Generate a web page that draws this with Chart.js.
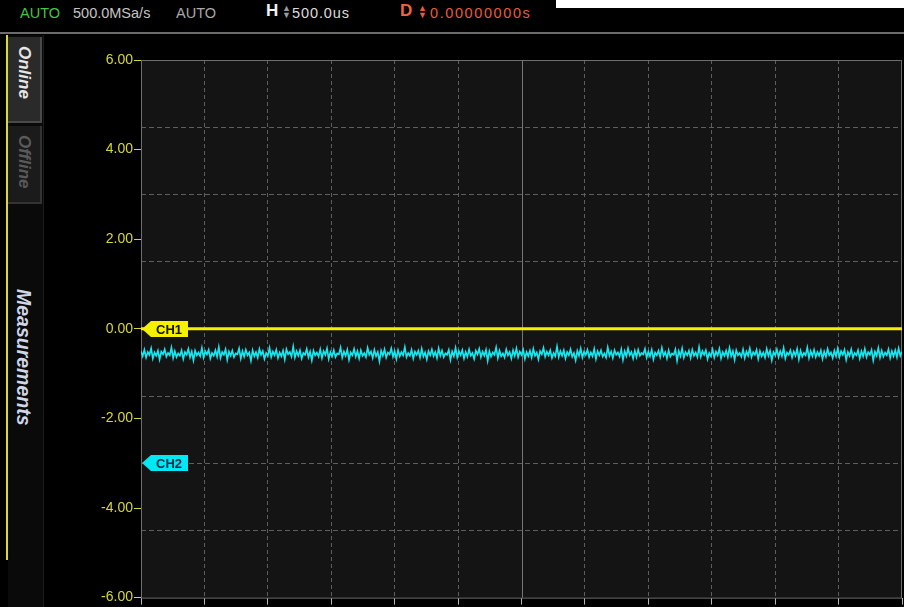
<!DOCTYPE html>
<html>
<head>
<meta charset="utf-8">
<script src="https://cdn.jsdelivr.net/npm/chart.js@4.4.1/dist/chart.umd.min.js"></script>
<style>
  html, body { margin: 0; padding: 0; background: #000; width: 904px; height: 607px; overflow: hidden; font-family: "Liberation Sans", Arial, sans-serif; }
  #topbar { position: absolute; left: 0; top: 0; width: 904px; height: 32px; background: #000; }
  #topcut { position: absolute; left: 556px; top: 0; width: 348px; height: 8px; background: #fff; }
  #topline { position: absolute; left: 0; top: 32px; width: 904px; height: 2px; background: #6c6c6c; }
  .tb { position: absolute; top: 4px; font-size: 14.5px; white-space: nowrap; line-height: 18px; }
  #sidebar { position: absolute; left: 8px; top: 35px; width: 35px; height: 572px; background: #0a0a0a; border-right: 1px solid #1c1c1c; }
  #yline { position: absolute; left: 6px; top: 35px; width: 2px; height: 525px; background: #d8d840; }
  .tab { position: absolute; left: 8px; width: 34px; writing-mode: vertical-rl; font-weight: bold; font-style: italic; font-size: 17px; display: flex; align-items: center; justify-content: flex-start; box-sizing: border-box; padding-top: 9px; }
  #online { top: 37px; height: 86px; background: #2a2a2a; color: #e6e6e6; border-right: 2px solid #4a4a4a; border-bottom: 2px solid #4a4a4a; }
  #offline { top: 126px; height: 78px; background: #1b1b1b; color: #5a5a5a; border-right: 2px solid #333; border-bottom: 2px solid #333; }
  #meas { position: absolute; left: 11px; top: 289px; width: 24px; writing-mode: vertical-rl; font-weight: bold; font-style: italic; font-size: 19.5px; color: #cfd6e6; }
  #chartWrap { position: absolute; left: 0; top: 0; width: 904px; height: 607px; }
</style>
</head>
<body>
<div id="topbar"></div>
<div id="topcut"></div>
<div id="topline"></div>
<div class="tb" style="left:20px;color:#44c544;">AUTO</div>
<div class="tb" style="left:73px;color:#c4c4c4;">500.0MSa/s</div>
<div class="tb" style="left:176px;color:#a8a8a8;">AUTO</div>
<div class="tb" style="left:266px;top:2px;color:#f2f2f2;font-weight:bold;font-size:17px;">H</div>
<div class="tb" style="left:282px;top:5px;color:#9a9a9a;font-size:9px;line-height:7px;">▲<br>▼</div>
<div class="tb" style="left:292px;color:#dcdcdc;letter-spacing:0.9px;">500.0us</div>
<div class="tb" style="left:400px;top:2px;color:#f0663c;font-weight:bold;font-size:17px;">D</div>
<div class="tb" style="left:418px;top:5px;color:#e0603a;font-size:9px;line-height:7px;">▲<br>▼</div>
<div class="tb" style="left:430px;color:#e85c3c;letter-spacing:1.6px;">0.00000000s</div>

<div id="sidebar"></div>
<div id="yline"></div>
<div class="tab" id="online">Online</div>
<div class="tab" id="offline">Offline</div>
<div id="meas">Measurements</div>

<div id="chartWrap"><canvas id="scope" width="904" height="607"></canvas></div>

<script>
// Time base: 12 horizontal divisions at 500 us/div, centred on the trigger
const timeSpanMs = [-3, 3];
const voltRange = [-6, 6];
const voltTickLabels = [-6, -4, -2, 0, 2, 4, 6];
const voltGridLines = [-4.5, -3, -1.5, 1.5, 3, 4.5];

// Channel ground markers (volts on the screen scale)
const channelNames = ['CH1', 'CH2'];
const channelOffsets = [0, -3];
const channelColors = ['#f4f000', '#00e8f4'];
const channelTextColors = ['#111100', '#0c2a44'];

// CH1 acquisition: flat at 0 V
const ch1Samples = [0, 0, 0, 0, 0, 0, 0, 0, 0, 0, 0, 0, 0];

// CH2 acquisition: noisy level just below zero
const ch2Samples = [
  -0.50,-0.61,-0.47,-0.64,-0.52,-0.58,-0.44,-0.66,-0.53,-0.60,-0.49,-0.68,-0.51,-0.57,-0.46,-0.62,-0.54,-0.59,-0.42,-0.65,-0.50,-0.63,-0.55,-0.60,-0.48,
  -0.67,-0.52,-0.58,-0.45,-0.63,-0.51,-0.70,-0.49,-0.59,-0.53,-0.61,-0.43,-0.64,-0.50,-0.57,-0.47,-0.66,-0.54,-0.60,-0.48,-0.62,-0.41,-0.65,-0.52,-0.58,
  -0.46,-0.69,-0.51,-0.60,-0.49,-0.63,-0.55,-0.57,-0.44,-0.66,-0.50,-0.62,-0.47,-0.59,-0.53,-0.71,-0.48,-0.61,-0.52,-0.64,-0.45,-0.58,-0.50,-0.67,-0.54,
  -0.60,-0.43,-0.63,-0.51,-0.59,-0.47,-0.65,-0.53,-0.61,-0.49,-0.68,-0.46,-0.57,-0.52,-0.62,-0.40,-0.64,-0.50,-0.60,-0.48,-0.66,-0.54,-0.58,-0.45,-0.63,
  -0.51,-0.70,-0.49,-0.59,-0.53,-0.62,-0.46,-0.65,-0.50,-0.58,-0.44,-0.67,-0.52,-0.61,-0.48,-0.63,-0.55,-0.57,-0.42,-0.64,-0.51,-0.60,-0.47,-0.69,-0.53,
  -0.59,-0.45,-0.62,-0.50,-0.66,-0.48,-0.60,-0.54,-0.63,-0.43,-0.58,-0.51,-0.65,-0.47,-0.61,-0.52,-0.72,-0.49,-0.60,-0.46,-0.64,-0.53,-0.57,-0.44,-0.62,
  -0.50,-0.67,-0.48,-0.61,-0.52,-0.59,-0.41,-0.63,-0.54,-0.60,-0.47,-0.66,-0.51,-0.58,-0.49,-0.64,-0.45,-0.62,-0.53,-0.68,-0.50,-0.59,-0.46,-0.61,-0.52,
  -0.65,-0.44,-0.60,-0.49,-0.63,-0.55,-0.58,-0.47,-0.69,-0.51,-0.61,-0.43,-0.64,-0.50,-0.59,-0.48,-0.66,-0.52,-0.62,-0.46,-0.60,-0.54,-0.67,-0.49,-0.57,
  -0.45,-0.63,-0.51,-0.60,-0.47,-0.71,-0.50,-0.62,-0.53,-0.58,-0.42,-0.65,-0.49,-0.61,-0.55,-0.64,-0.46,-0.59,-0.52,-0.66,-0.48,-0.60,-0.44,-0.63,-0.51,
  -0.58,-0.47,-0.67,-0.52,-0.61,-0.49,-0.64,-0.45,-0.60,-0.53,-0.68,-0.50,-0.57,-0.43,-0.62,-0.51,-0.59,-0.48,-0.65,-0.54,-0.61,-0.40,-0.63,-0.50,-0.60,
  -0.48,-0.66,-0.52,-0.59,-0.46,-0.62,-0.54,-0.70,-0.49,-0.60,-0.44,-0.64,-0.51,-0.58,-0.47,-0.63,-0.53,-0.61,-0.45,-0.67,-0.50,-0.59,-0.48,-0.62,-0.55,
  -0.64,-0.42,-0.60,-0.51,-0.65,-0.48,-0.58,-0.53,-0.62,-0.46,-0.69,-0.50,-0.61,-0.44,-0.59,-0.52,-0.66,-0.49,-0.63,-0.47,-0.60,-0.54,-0.57,-0.45,-0.64,
  -0.51,-0.61,-0.47,-0.68,-0.53,-0.59,-0.49,-0.63,-0.43,-0.60,-0.52,-0.66,-0.48,-0.62,-0.55,-0.58,-0.46,-0.71,-0.50,-0.61,-0.44,-0.64,-0.52,-0.59,-0.49,
  -0.65,-0.47,-0.60,-0.53,-0.63,-0.41,-0.62,-0.50,-0.58,-0.48,-0.67,-0.54,-0.61,-0.46,-0.64,-0.51,-0.59,-0.45,-0.66,-0.52,-0.60,-0.49,-0.63,-0.43,-0.61,
  -0.50,-0.69,-0.48,-0.59,-0.54,-0.62,-0.46,-0.65,-0.51,-0.60,-0.44,-0.63,-0.52,-0.58,-0.47,-0.67,-0.50,-0.61,-0.53,-0.64,-0.45,-0.60,-0.49,-0.70,-0.52,
  -0.59,-0.46,-0.63,-0.50,-0.61,-0.43,-0.66,-0.53,-0.58,-0.48,-0.64,-0.51,-0.60,-0.45,-0.68,-0.49,-0.62,-0.54,-0.59,-0.42,-0.65,-0.50,-0.61,-0.47,-0.63,
  -0.52,-0.60,-0.48,-0.67,-0.51,-0.62,-0.45,-0.59,-0.53,-0.65,-0.49,-0.61,-0.44,-0.63,-0.50,-0.58,-0.47,-0.69,-0.52,-0.60,-0.46,-0.64,-0.54,-0.59,-0.48,
  -0.66,-0.50,-0.61,-0.45,-0.63,-0.52,-0.58,-0.47,-0.70,-0.51,-0.60,-0.43,-0.64,-0.49,-0.62,-0.53,-0.59,-0.46,-0.65,-0.50,-0.61,-0.48,-0.63,-0.44,-0.60,-0.51
];

// Samples are evenly spread over the record length
function toPoints(samples) {
  const span = timeSpanMs[1] - timeSpanMs[0];
  return samples.map((v, i) => ({ x: timeSpanMs[0] + span * i / (samples.length - 1), y: v }));
}

const isLabelTick = v => voltTickLabels.some(t => Math.abs(t - v) < 1e-6);
const isGridTick = v => voltGridLines.some(t => Math.abs(t - v) < 1e-6);

const screenPlugin = {
  id: 'scopeScreen',
  beforeDraw(chart) {
    const { ctx, chartArea: a } = chart;
    ctx.save();
    ctx.fillStyle = '#141414';
    ctx.fillRect(a.left, a.top, a.right - a.left, a.bottom - a.top);
    ctx.restore();
  },
  beforeDatasetsDraw(chart) {
    const { ctx, chartArea: a, scales } = chart;
    const cx = Math.round(scales.x.getPixelForValue(0)) + 0.5;
    const cy = Math.round(scales.y.getPixelForValue(0)) + 0.5;
    ctx.save();
    ctx.strokeStyle = '#767676';
    ctx.lineWidth = 1;
    ctx.beginPath();
    ctx.moveTo(cx, a.top); ctx.lineTo(cx, a.bottom);
    ctx.moveTo(a.left, cy); ctx.lineTo(a.right, cy);
    ctx.stroke();
    ctx.strokeStyle = '#6e6e6e';
    ctx.strokeRect(a.left + 0.5, a.top + 0.5, a.right - a.left - 1, a.bottom - a.top);
    ctx.restore();
  },
  afterDatasetsDraw(chart) {
    const { ctx, chartArea: a, scales } = chart;
    ctx.save();
    channelNames.forEach((name, i) => {
      const y = Math.round(scales.y.getPixelForValue(channelOffsets[i]));
      const x0 = a.left + 1;
      ctx.fillStyle = channelColors[i];
      ctx.beginPath();
      ctx.moveTo(x0, y);
      ctx.lineTo(x0 + 9, y - 8);
      ctx.lineTo(x0 + 46, y - 8);
      ctx.lineTo(x0 + 46, y + 8);
      ctx.lineTo(x0 + 9, y + 8);
      ctx.closePath();
      ctx.fill();
      ctx.fillStyle = channelTextColors[i];
      ctx.font = 'bold 13px "Liberation Sans", Arial, sans-serif';
      ctx.textAlign = 'center';
      ctx.textBaseline = 'middle';
      ctx.fillText(name, x0 + 27, y + 1);
    });
    ctx.restore();
  }
};

new Chart(document.getElementById('scope'), {
  type: 'line',
  data: {
    datasets: [
      {
        label: 'CH2',
        data: toPoints(ch2Samples),
        borderColor: '#14e8f0',
        borderWidth: 1.7,
        pointRadius: 0,
        tension: 0
      },
      {
        label: 'CH1',
        data: toPoints(ch1Samples),
        borderColor: '#f4f000',
        borderWidth: 3,
        pointRadius: 0,
        tension: 0
      }
    ]
  },
  options: {
    responsive: false,
    animation: false,
    devicePixelRatio: 1,
    layout: { padding: { top: 60, right: 2, bottom: 0, left: 0 } },
    plugins: { legend: { display: false }, tooltip: { enabled: false } },
    scales: {
      x: {
        type: 'linear',
        min: timeSpanMs[0],
        max: timeSpanMs[1],
        ticks: { display: false, stepSize: 0.5 },
        grid: {
          color: c => (Math.abs(c.tick.value) < 1e-6 || Math.abs(Math.abs(c.tick.value) - 3) < 1e-6) ? 'rgba(0,0,0,0)' : '#5e5e5e',
          tickColor: '#b8b8b8',
          tickLength: 7,
          lineWidth: 1
        },
        border: { display: false, dash: [4, 3] },
        afterFit: s => { s.height = 7; }
      },
      y: {
        type: 'linear',
        min: voltRange[0],
        max: voltRange[1],
        afterBuildTicks: s => {
          s.ticks = voltTickLabels.concat(voltGridLines).sort((p, q) => p - q).map(v => ({ value: v }));
        },
        ticks: {
          color: '#d6d63a',
          font: { size: 14, family: '"Liberation Sans", Arial, sans-serif' },
          padding: 1,
          autoSkip: false,
          callback: v => isLabelTick(v) ? v.toFixed(2) : ''
        },
        grid: {
          color: c => isGridTick(c.tick.value) ? '#5e5e5e' : 'rgba(0,0,0,0)',
          tickColor: c => isLabelTick(c.tick.value) ? '#d6d63a' : 'rgba(0,0,0,0)',
          tickLength: 7,
          lineWidth: 1
        },
        border: { display: false, dash: [5, 3] },
        afterFit: s => { s.width = 141; }
      }
    }
  },
  plugins: [screenPlugin]
});
</script>
</body>
</html>
